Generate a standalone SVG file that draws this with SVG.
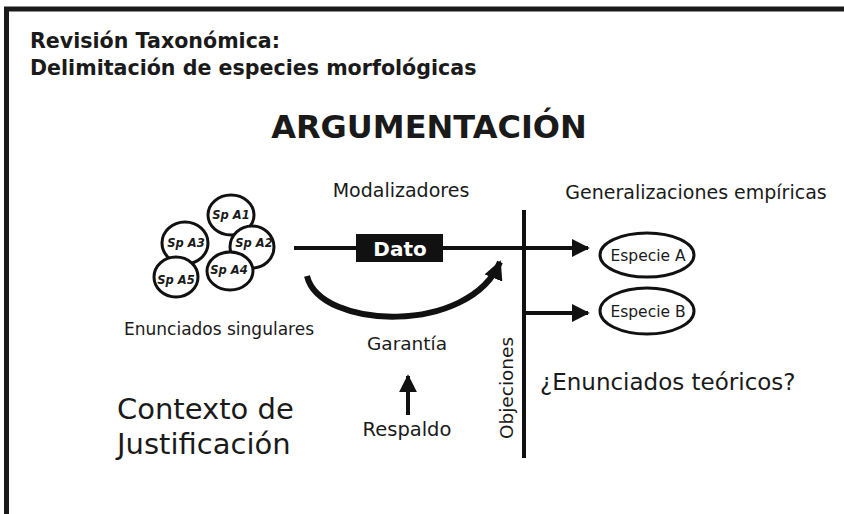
<svg xmlns="http://www.w3.org/2000/svg" width="844" height="514" viewBox="0 0 844 514">
<style>
text{font-family:"DejaVu Sans",sans-serif;fill:#1a1a1a}
.t{font-weight:bold;font-size:20.6px}
.lbl{font-size:19px}
.sp{font-weight:bold;font-style:italic;font-size:11.5px;text-anchor:middle}
.node{fill:#fff;stroke:#111;stroke-width:3}
.ln{stroke:#111;stroke-width:4;fill:none}
</style>
<defs>
<marker id="ah" viewBox="0 0 10 10" refX="9" refY="5" markerWidth="4.5" markerHeight="4.5" orient="auto" markerUnits="strokeWidth">
<path d="M0,0 L10,5 L0,10 z" fill="#111"/>
</marker>
<marker id="ah2" viewBox="0 0 10 10" refX="9" refY="5" markerWidth="3.2" markerHeight="3.2" orient="auto" markerUnits="strokeWidth">
<path d="M0,0 L10,5 L0,10 z" fill="#111"/>
</marker>
</defs>
<rect width="844" height="514" fill="#fff"/>
<path d="M6.5,514 V9 H844" fill="none" stroke="#1a1a1a" stroke-width="5"/>
<g id="title">
<text class="t" x="30" y="48">Revisión Taxonómica:</text>
<text class="t" x="30" y="75">Delimitación de especies morfológicas</text>
<text x="429" y="138" text-anchor="middle" font-weight="bold" font-size="32">ARGUMENTACIÓN</text>
</g>
<g id="connectors">
<line class="ln" x1="294" y1="248" x2="588" y2="248" marker-end="url(#ah)"/>
<line class="ln" x1="524" y1="210" x2="524" y2="458"/>
<line class="ln" x1="524" y1="313" x2="588" y2="313" marker-end="url(#ah)"/>
<path d="M307,276 C320,330 470,335 500,262" stroke="#111" stroke-width="6" fill="none" marker-end="url(#ah2)"/>
<line class="ln" x1="408" y1="415" x2="408" y2="376" marker-end="url(#ah)"/>
</g>
<g id="singulares">
<ellipse class="node" cx="231" cy="215" rx="23" ry="20"/>
<text class="sp" x="231" y="219">Sp A1</text>
<ellipse class="node" cx="185" cy="243" rx="23" ry="21"/>
<text class="sp" x="186" y="247">Sp A3</text>
<ellipse class="node" cx="252" cy="247" rx="22" ry="21"/>
<text class="sp" x="254" y="247">Sp A2</text>
<ellipse class="node" cx="230" cy="271" rx="23" ry="19"/>
<text class="sp" x="229" y="274">Sp A4</text>
<ellipse class="node" cx="176" cy="277" rx="22" ry="20"/>
<text class="sp" x="176" y="284">Sp A5</text>
<text x="314" y="335" font-size="17" text-anchor="end">Enunciados singulares</text>
</g>
<g id="dato">
<rect x="356" y="234" width="87" height="28" fill="#111"/>
<text x="400" y="256" text-anchor="middle" font-weight="bold" font-size="20" style="fill:#fff">Dato</text>
</g>
<g id="modalizadores"><text class="lbl" x="401" y="197" text-anchor="middle">Modalizadores</text></g>
<g id="generalizaciones"><text x="696" y="199" text-anchor="middle" font-size="19">Generalizaciones empíricas</text></g>
<g id="especieA">
<ellipse class="node" cx="647" cy="255" rx="47" ry="22"/>
<text x="648" y="261" text-anchor="middle" font-size="15.5">Especie A</text>
</g>
<g id="especieB">
<ellipse class="node" cx="647" cy="311" rx="47" ry="23"/>
<text x="648" y="317" text-anchor="middle" font-size="15.5">Especie B</text>
</g>
<g id="garantia"><text x="407" y="350" text-anchor="middle" font-size="18.5">Garantía</text></g>
<g id="respaldo"><text x="407" y="436" text-anchor="middle" font-size="19.5">Respaldo</text></g>
<g id="objeciones"><text transform="translate(513,388) rotate(-90)" text-anchor="middle" font-size="18.5">Objeciones</text></g>
<g id="teoricos"><text x="540" y="390" font-size="23">¿Enunciados teóricos?</text></g>
<g id="contexto">
<text x="117" y="419" font-size="29">Contexto de</text>
<text x="117" y="454" font-size="29">Justificación</text>
</g>
</svg>
